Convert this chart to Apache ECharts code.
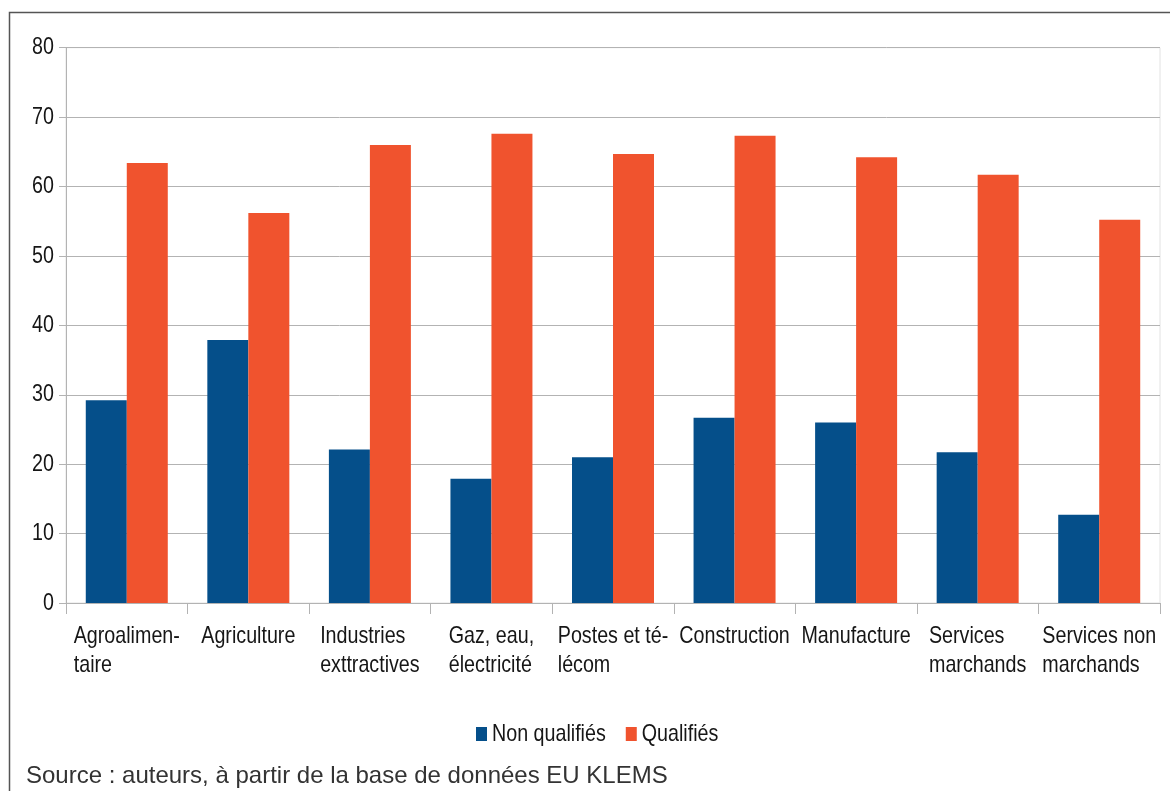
<!DOCTYPE html>
<html>
<head>
<meta charset="utf-8">
<script src="https://cdn.jsdelivr.net/npm/echarts@6/dist/echarts.min.js"></script>
<style>
  html, body { margin: 0; padding: 0; background: #ffffff; }
  #chart { width: 1170px; height: 791px; }
</style>
</head>
<body>
<div id="chart"></div>
<script>
// Secteurs (libellés sur deux lignes)
const categories = [
  'Agroalimen-\ntaire',
  'Agriculture',
  'Industries\nexttractives',
  'Gaz, eau,\nélectricité',
  'Postes et té-\nlécom',
  'Construction',
  'Manufacture',
  'Services\nmarchands',
  'Services non\nmarchands'
];
const seriesNames = ['Non qualifiés', 'Qualifiés'];
const nonQualifies = [29.2, 37.9, 22.1, 17.9, 21.0, 26.7, 26.0, 21.7, 12.7];
const qualifies = [63.4, 56.2, 66.0, 67.6, 64.7, 67.3, 64.2, 61.7, 55.2];
const yTicks = [0, 10, 20, 30, 40, 50, 60, 70, 80];
const sourceText = 'Source : auteurs, à partir de la base de données EU KLEMS';

const colors = ['#054f8a', '#f0532e'];
const gridGray = '#b3b3b3';
const textColor = '#161616';
const gridLeft = 66;
// Texte « étroit » : Liberation Sans compressée horizontalement
const narrowFont = '"Liberation Sans", Arial, sans-serif';
const narrowSize = 24;
const narrowScale = 0.82;

const chart = echarts.init(document.getElementById('chart'), null, { renderer: 'canvas' });

chart.setOption({
  animation: false,
  backgroundColor: '#ffffff',
  color: colors,
  grid: {
    left: gridLeft, right: 10, top: 47.7, bottom: 188,
    show: true, borderColor: '#e2e2e2', borderWidth: 1, backgroundColor: 'transparent'
  },
  legend: { show: false, data: seriesNames },
  xAxis: {
    type: 'category',
    data: categories,
    axisLine: { show: true, lineStyle: { color: gridGray, width: 1 } },
    axisTick: { show: true, length: 11, lineStyle: { color: gridGray } },
    axisLabel: { show: false, interval: 0 }
  },
  yAxis: {
    type: 'value',
    min: yTicks[0],
    max: yTicks[yTicks.length - 1],
    interval: yTicks[1] - yTicks[0],
    axisLine: { show: true, lineStyle: { color: gridGray, width: 1 } },
    axisTick: { show: true, length: 7, lineStyle: { color: gridGray } },
    splitLine: { show: true, lineStyle: { color: gridGray, width: 1 } },
    axisLabel: { show: false }
  },
  series: [
    { name: seriesNames[0], type: 'bar', data: nonQualifies, barWidth: 41, barGap: '0%' },
    { name: seriesNames[1], type: 'bar', data: qualifies, barWidth: 41, barGap: '0%' }
  ]
});

// Mesure d'un texte étroit (largeur affichée)
const measureCtx = document.createElement('canvas').getContext('2d');
measureCtx.font = narrowSize + 'px ' + narrowFont;
function narrowWidth(s) { return measureCtx.measureText(s).width * narrowScale; }

function narrowText(x, y, text, align, vAlign) {
  return {
    type: 'text',
    x: x, y: y,
    scaleX: narrowScale,
    silent: true,
    style: {
      text: text,
      x: 0, y: 0,
      align: align,
      verticalAlign: vAlign,
      fontFamily: narrowFont,
      fontSize: narrowSize,
      fill: textColor
    }
  };
}

const graphics = [];

// Graduations de l'axe des ordonnées
yTicks.forEach(function (v) {
  const py = chart.convertToPixel({ yAxisIndex: 0 }, v);
  graphics.push(narrowText(gridLeft - 12, py, String(v), 'right', 'middle'));
});

// Libellés des catégories : bloc centré, lignes alignées à gauche
const xBase = chart.convertToPixel({ yAxisIndex: 0 }, 0);
categories.forEach(function (c, i) {
  const cx = chart.convertToPixel({ xAxisIndex: 0 }, i);
  const rich = c.split('\n').map(function (l) { return '{l|' + l + '}'; }).join('\n');
  const el = narrowText(cx, xBase + 18.5, rich, 'center', 'top');
  el.style.rich = { l: { align: 'left', fontFamily: narrowFont, fontSize: narrowSize, lineHeight: 29.5, fill: textColor } };
  graphics.push(el);
});

// Légende
let lx = 476;
const ly = 734;
seriesNames.forEach(function (name, i) {
  graphics.push({
    type: 'rect', silent: true,
    shape: { x: lx, y: ly - 7, width: 11, height: 14 },
    style: { fill: colors[i] }
  });
  lx += 16;
  graphics.push(narrowText(lx, ly, name, 'left', 'middle'));
  lx += narrowWidth(name) + 20;
});

// Cadre
graphics.push({
  type: 'rect', silent: true, z: 100,
  shape: { x: 9.5, y: 12.5, width: 1200, height: 820 },
  style: { fill: 'none', stroke: '#555555', lineWidth: 1.5 }
});

// Source
graphics.push({
  type: 'text', silent: true,
  x: 26, y: 776,
  style: {
    text: sourceText,
    align: 'left', verticalAlign: 'middle',
    fontFamily: '"Liberation Sans", Arial, sans-serif',
    fontSize: 24,
    fill: '#333333'
  }
});

chart.setOption({ graphic: graphics });
</script>
</body>
</html>
